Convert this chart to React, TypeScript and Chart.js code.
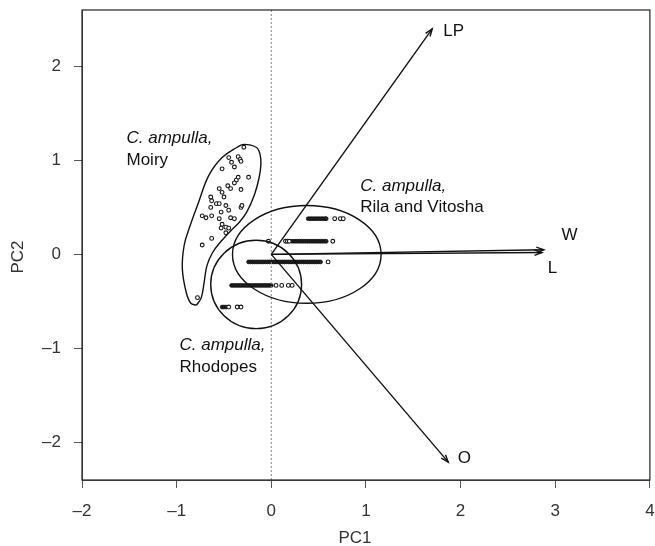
import React, { useEffect, useRef } from "react";
import { Chart, registerables } from "chart.js";
Chart.register(...registerables);

// Axis ticks
const xTicks = [-2, -1, 0, 1, 2, 3, 4];
const yTicks = [-2, -1, 0, 1, 2];
const xRange = [-2, 4];
const yRange = [-2.4, 2.6];

// C. ampulla, Moiry – individual scores
const moiryX = [-0.29, -0.45, -0.35, -0.33, -0.32, -0.42, -0.52, -0.39, -0.24, -0.35, -0.37, -0.39, -0.46, -0.43, -0.32, -0.55, -0.52, -0.5, -0.64, -0.63, -0.58, -0.55, -0.48, -0.64, -0.32, -0.31, -0.45, -0.53, -0.73, -0.69, -0.63, -0.55, -0.43, -0.39, -0.52, -0.48, -0.45, -0.48, -0.53, -0.63, -0.73, -0.78];
const moiryY = [1.14, 1.03, 1.04, 1.01, 0.99, 0.98, 0.91, 0.93, 0.82, 0.82, 0.79, 0.76, 0.73, 0.7, 0.69, 0.7, 0.66, 0.61, 0.61, 0.57, 0.54, 0.54, 0.52, 0.5, 0.5, 0.52, 0.47, 0.45, 0.41, 0.39, 0.41, 0.38, 0.39, 0.38, 0.32, 0.29, 0.28, 0.23, 0.28, 0.17, 0.1, -0.46];

// Rila/Vitosha + Rhodopes scores (discrete rows of heavily overlapping points)
const bandY = [0.38, 0.14, -0.08, -0.33, -0.56];
const band1Dense = [0.39, 0.41, 0.43, 0.45, 0.47, 0.49, 0.51, 0.53, 0.55, 0.57, 0.58];
const band1Sparse = [0.67, 0.73, 0.76];
const band2Dense = [0.22, 0.24, 0.26, 0.28, 0.3, 0.32, 0.34, 0.36, 0.38, 0.4, 0.42, 0.44, 0.46, 0.48, 0.5, 0.52, 0.54, 0.56, 0.58];
const band2Sparse = [-0.03, 0.15, 0.17, 0.19, 0.65];
const band3Dense = [-0.24, -0.22, -0.2, -0.18, -0.16, -0.14, -0.12, -0.1, -0.08, -0.06, -0.04, -0.02, 0.0, 0.02, 0.04, 0.06, 0.08, 0.1, 0.12, 0.14, 0.16, 0.18, 0.2, 0.22, 0.24, 0.26, 0.28, 0.3, 0.32, 0.34, 0.36, 0.38, 0.4, 0.42, 0.44, 0.46, 0.48, 0.5, 0.52];
const band3Sparse = [0.6];
const band4Dense = [-0.42, -0.4, -0.38, -0.36, -0.34, -0.32, -0.3, -0.28, -0.26, -0.24, -0.22, -0.2, -0.18, -0.16, -0.14, -0.12, -0.1, -0.08, -0.06, -0.04, -0.02, 0.0];
const band4Sparse = [0.05, 0.11, 0.18, 0.22];
const band5Dense = [-0.52, -0.5, -0.48];
const band5Sparse = [-0.45, -0.36, -0.32];

// Moiry convex hull outline
const hullX = [-0.79, -0.85, -0.9, -0.94, -0.92, -0.86, -0.77, -0.66, -0.52, -0.36, -0.29, -0.16, -0.12, -0.11, -0.13, -0.18, -0.26, -0.34, -0.43, -0.53, -0.62, -0.68, -0.71, -0.74, -0.79];
const hullY = [-0.54, -0.52, -0.4, -0.15, 0.1, 0.3, 0.55, 0.84, 1.03, 1.14, 1.17, 1.14, 1.07, 0.96, 0.81, 0.63, 0.45, 0.34, 0.25, 0.14, 0.02, -0.12, -0.3, -0.46, -0.54];

// Ellipses: Rila and Vitosha, Rhodopes
const ellCx = [0.375, -0.16];
const ellCy = [0.0, -0.32];
const ellRx = [0.785, 0.48];
const ellRy = [0.52, 0.47];

// Variable loadings (arrows)
const varNames = ["LP", "W", "L", "O"];
const varX = [1.7, 2.88, 2.86, 1.87];
const varY = [2.4, 0.05, 0.02, -2.21];
const varLabelX = [1.8, 3.15, 2.97, 2.04];
const varLabelY = [2.37, 0.2, -0.15, -2.17];

// Group labels
const groupNames = ["Moiry", "Rila and Vitosha", "Rhodopes"];
const groupLabelX = [-1.53, 0.94, -0.97];
const groupLabelY = [1.24, 0.73, -0.97];

const FONT = "'Liberation Sans', Arial, Helvetica, sans-serif";

const pts = (xs: number[], ys: number[]) => xs.map((x, i) => ({ x, y: ys[i] }));
const row = (xs: number[], y: number) => xs.map((x) => ({ x, y }));

export default function App() {
  const ref = useRef<HTMLCanvasElement | null>(null);

  useEffect(() => {
    document.body.style.margin = "0";
    const canvas = ref.current;
    if (!canvas) return;

    const openPt = {
      type: "scatter" as const,
      showLine: false,
      pointRadius: 1.9,
      pointBorderWidth: 1.1,
      pointBorderColor: "#151515",
      pointBackgroundColor: "#fff",
    };
    const densePt = {
      type: "scatter" as const,
      showLine: false,
      pointRadius: 1.9,
      pointBorderWidth: 0.8,
      pointBorderColor: "#111",
      pointBackgroundColor: "#222",
    };

    const extras = {
      id: "extras",
      afterDatasetsDraw(chart: any) {
        const { ctx, scales } = chart;
        const xs = scales.x, ys = scales.y;
        const px = (v: number) => xs.getPixelForValue(v);
        const py = (v: number) => ys.getPixelForValue(v);
        ctx.save();
        // ellipses
        ctx.strokeStyle = "#111";
        ctx.lineWidth = 1.4;
        for (let i = 0; i < ellCx.length; i++) {
          const cx = px(ellCx[i]), cy = py(ellCy[i]);
          const rx = Math.abs(px(ellCx[i] + ellRx[i]) - cx);
          const ry = Math.abs(py(ellCy[i] + ellRy[i]) - cy);
          ctx.beginPath();
          ctx.ellipse(cx, cy, rx, ry, 0, 0, Math.PI * 2);
          ctx.stroke();
        }
        // arrows
        ctx.lineWidth = 1.4;
        for (let i = 0; i < varX.length; i++) {
          const x0 = px(0), y0 = py(0);
          const x1 = px(varX[i]), y1 = py(varY[i]);
          ctx.beginPath();
          ctx.moveTo(x0, y0);
          ctx.lineTo(x1, y1);
          ctx.stroke();
          const a = Math.atan2(y1 - y0, x1 - x0);
          const len = 8, sp = 0.35;
          ctx.beginPath();
          ctx.moveTo(x1 - len * Math.cos(a - sp), y1 - len * Math.sin(a - sp));
          ctx.lineTo(x1, y1);
          ctx.lineTo(x1 - len * Math.cos(a + sp), y1 - len * Math.sin(a + sp));
          ctx.stroke();
        }
        // variable labels
        ctx.fillStyle = "#111";
        ctx.font = `17px ${FONT}`;
        ctx.textAlign = "center";
        ctx.textBaseline = "middle";
        for (let i = 0; i < varNames.length; i++) {
          ctx.fillText(varNames[i], px(varLabelX[i]) + (i === 0 ? 12 : 0), py(varLabelY[i]));
        }
        // group labels
        ctx.textAlign = "left";
        for (let i = 0; i < groupNames.length; i++) {
          const x = px(groupLabelX[i]), y = py(groupLabelY[i]);
          ctx.font = `italic 17px ${FONT}`;
          ctx.fillText("C. ampulla,", x, y);
          ctx.font = `17px ${FONT}`;
          ctx.fillText(groupNames[i], x, y + 22);
        }
        ctx.restore();
      },
      afterDraw(chart: any) {
        const { ctx, chartArea } = chart;
        ctx.save();
        ctx.strokeStyle = "#222";
        ctx.lineWidth = 1.2;
        ctx.strokeRect(chartArea.left, chartArea.top, chartArea.right - chartArea.left, chartArea.bottom - chartArea.top);
        ctx.fillStyle = "#333";
        ctx.font = `17px ${FONT}`;
        ctx.textAlign = "center";
        ctx.textBaseline = "middle";
        ctx.fillText("PC1", 355, 538);
        ctx.translate(18, 257);
        ctx.rotate(-Math.PI / 2);
        ctx.fillText("PC2", 0, 0);
        ctx.restore();
      },
    };

    const fmt = (v: any) => (Number(v) < 0 ? "\u2013" + Math.abs(Number(v)) : String(v));

    const chart = new Chart(canvas, {
      type: "scatter",
      data: {
        datasets: [
          {
            type: "line",
            data: [{ x: 0, y: yRange[0] }, { x: 0, y: yRange[1] }],
            borderColor: "#888",
            borderWidth: 1,
            borderDash: [2, 2],
            pointRadius: 0,
          } as any,
          {
            type: "line",
            data: pts(hullX, hullY),
            borderColor: "#111",
            borderWidth: 1.4,
            tension: 0.4,
            pointRadius: 0,
          } as any,
          { ...openPt, data: pts(moiryX, moiryY) },
          { ...openPt, data: row(band1Sparse, bandY[0]) },
          { ...openPt, data: row(band2Sparse, bandY[1]) },
          { ...openPt, data: row(band3Sparse, bandY[2]) },
          { ...openPt, data: row(band4Sparse, bandY[3]) },
          { ...openPt, data: row(band5Sparse, bandY[4]) },
          { ...densePt, data: row(band1Dense, bandY[0]) },
          { ...densePt, data: row(band2Dense, bandY[1]) },
          { ...densePt, data: row(band3Dense, bandY[2]) },
          { ...densePt, data: row(band4Dense, bandY[3]) },
          { ...densePt, data: row(band5Dense, bandY[4]) },
        ],
      },
      options: {
        animation: false,
        responsive: false,
        devicePixelRatio: 1,
        layout: { padding: { left: 0, right: 3, top: 10, bottom: 0 } },
        plugins: { legend: { display: false }, tooltip: { enabled: false } },
        scales: {
          x: {
            type: "linear",
            min: xRange[0],
            max: xRange[1],
            afterBuildTicks: (s: any) => {
              s.ticks = xTicks.map((v) => ({ value: v }));
            },
            afterFit: (s: any) => {
              s.height = 66;
              s.paddingLeft = 0;
              s.paddingRight = 0;
            },
            grid: { drawOnChartArea: false, drawTicks: true, tickLength: 8, tickColor: "#555" },
            border: { display: true, color: "#555", width: 1 },
            ticks: { font: { family: FONT, size: 17 }, color: "#333", padding: 13, maxRotation: 0, autoSkip: false, callback: fmt },
          },
          y: {
            type: "linear",
            min: yRange[0],
            max: yRange[1],
            afterBuildTicks: (s: any) => {
              s.ticks = yTicks.map((v) => ({ value: v }));
            },
            afterFit: (s: any) => {
              s.width = 82;
              s.paddingTop = 0;
              s.paddingBottom = 0;
            },
            grid: { drawOnChartArea: false, drawTicks: true, tickLength: 8, tickColor: "#555" },
            border: { display: true, color: "#555", width: 1 },
            ticks: { font: { family: FONT, size: 17 }, color: "#333", padding: 13, autoSkip: false, callback: fmt },
          },
        },
      },
      plugins: [extras],
    });
    return () => chart.destroy();
  }, []);

  return <canvas ref={ref} width={655} height={546} style={{ display: "block" }} />;
}
